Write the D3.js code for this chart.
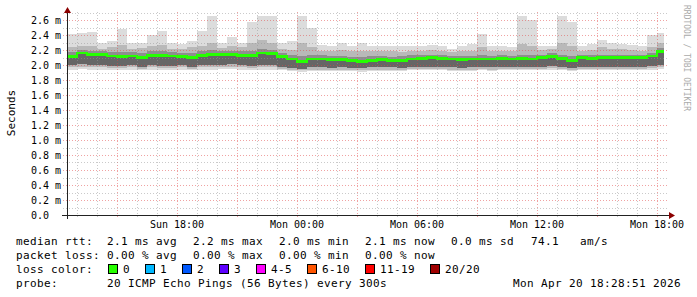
<!DOCTYPE html>
<html><head><meta charset="utf-8">
<script src="https://cdn.jsdelivr.net/npm/d3@7/dist/d3.min.js"></script>
<style>
html,body{margin:0;padding:0;background:#fff;}
svg{display:block;font-family:"DejaVu Sans Mono",monospace;}
text{white-space:pre;}
</style></head><body>
<svg id="c" width="697" height="297"></svg>
<script>
// ---------- data (values in ms; y axis labelled in seconds with "m" prefix) ----------
const rangeStart = "2026-04-19T12:30:00";
const rangeEnd = "2026-04-20T18:30:00";
const dataEnd = "2026-04-20T18:20:00";
const binMinutes = 30;
const medianMs = [2.11,2.16,2.14,2.14,2.12,2.11,2.12,2.10,2.13,2.13,
  2.12,2.11,2.10,2.13,2.14,2.14,2.14,2.13,2.13,2.16,
  2.15,2.11,2.08,2.05,2.08,2.08,2.07,2.07,2.06,2.05,
  2.06,2.07,2.06,2.06,2.08,2.09,2.10,2.09,2.08,2.07,
  2.08,2.08,2.08,2.09,2.08,2.09,2.08,2.10,2.11,2.09,
  2.06,2.10,2.09,2.10,2.10,2.10,2.10,2.10,2.12,2.18];
const maxMs = [2.42,2.43,2.44,2.30,2.32,2.48,2.30,2.30,2.40,2.45,
  2.30,2.28,2.32,2.45,2.65,2.30,2.37,2.30,2.58,2.66,
  2.66,2.30,2.32,2.65,2.49,2.27,2.26,2.30,2.26,2.29,
  2.26,2.26,2.25,2.25,2.26,2.25,2.27,2.25,2.22,2.26,
  2.28,2.42,2.26,2.25,2.24,2.65,2.60,2.26,2.26,2.65,
  2.58,2.25,2.28,2.33,2.30,2.28,2.27,2.26,2.40,2.43];
const hiMs = [2.24,2.26,2.25,2.22,2.24,2.27,2.22,2.23,2.25,2.27,
  2.22,2.21,2.24,2.26,2.30,2.23,2.25,2.24,2.30,2.33,
  2.30,2.22,2.20,2.30,2.24,2.19,2.18,2.20,2.18,2.19,
  2.18,2.19,2.18,2.17,2.19,2.18,2.20,2.18,2.17,2.18,
  2.19,2.24,2.19,2.18,2.18,2.28,2.26,2.20,2.21,2.30,
  2.25,2.18,2.20,2.24,2.22,2.21,2.20,2.19,2.24,2.30];
const q3Ms = [2.17,2.20,2.19,2.18,2.17,2.17,2.17,2.16,2.18,2.19,
  2.17,2.16,2.16,2.18,2.20,2.19,2.19,2.18,2.19,2.21,
  2.20,2.16,2.13,2.12,2.14,2.13,2.12,2.12,2.11,2.11,
  2.12,2.12,2.11,2.12,2.13,2.13,2.14,2.13,2.12,2.12,
  2.12,2.13,2.12,2.13,2.12,2.14,2.13,2.14,2.16,2.14,
  2.12,2.14,2.13,2.14,2.14,2.14,2.14,2.14,2.16,2.23];
const q1Ms = [2.00,2.01,2.00,2.00,1.99,1.99,2.00,1.98,2.00,1.99,
  1.99,2.00,1.98,2.00,2.00,2.00,2.01,2.00,1.99,2.00,
  2.00,1.98,1.96,1.95,1.97,1.97,1.96,1.97,1.96,1.96,
  1.97,1.97,1.97,1.96,1.97,1.97,1.98,1.97,1.97,1.96,
  1.97,1.97,1.97,1.98,1.97,1.98,1.97,1.98,1.99,1.98,
  1.96,1.98,1.98,1.98,1.98,1.98,1.98,1.98,1.99,2.00];
const loMs = [1.97,1.98,1.97,1.97,1.96,1.96,1.97,1.95,1.97,1.96,
  1.96,1.97,1.95,1.97,1.97,1.97,1.98,1.97,1.96,1.97,
  1.97,1.95,1.94,1.93,1.94,1.94,1.94,1.94,1.94,1.93,
  1.94,1.94,1.94,1.94,1.95,1.95,1.95,1.95,1.94,1.94,
  1.94,1.95,1.94,1.95,1.95,1.95,1.95,1.95,1.96,1.95,
  1.94,1.95,1.95,1.95,1.95,1.95,1.95,1.95,1.96,1.97];
const minMs = [1.94,1.95,1.94,1.94,1.93,1.94,1.94,1.93,1.94,1.94,
  1.94,1.94,1.93,1.94,1.94,1.95,1.95,1.94,1.94,1.94,
  1.94,1.93,1.92,1.91,1.92,1.92,1.92,1.92,1.92,1.91,
  1.92,1.92,1.92,1.92,1.93,1.93,1.93,1.93,1.92,1.92,
  1.92,1.93,1.92,1.93,1.93,1.93,1.93,1.93,1.94,1.93,
  1.92,1.93,1.93,1.93,1.93,1.93,1.93,1.93,1.94,1.95];

const yTickValues = [0,0.2,0.4,0.6,0.8,1.0,1.2,1.4,1.6,1.8,2.0,2.2,2.4,2.6];
const yTickLabels = ["0.0","0.2 m","0.4 m","0.6 m","0.8 m","1.0 m","1.2 m","1.4 m","1.6 m","1.8 m","2.0 m","2.2 m","2.4 m","2.6 m"];
const xTickTimes = ["2026-04-19T18:00:00","2026-04-20T00:00:00","2026-04-20T06:00:00","2026-04-20T12:00:00","2026-04-20T18:00:00"];
const xTickLabels = ["Sun 18:00","Mon 00:00","Mon 06:00","Mon 12:00","Mon 18:00"];

const yTitle = "Seconds";
const watermark = "RRDTOOL / TOBI OETIKER";
const medianRowHead = "median rtt:";
const medianRow = ["2.1 ms avg","2.2 ms max","2.0 ms min","2.1 ms now","0.0 ms sd","74.1   am/s"];
const lossRowHead = "packet loss:";
const lossRow = ["0.00 % avg","0.00 % max","0.00 % min","0.00 % now"];
const colorRowHead = "loss color:";
const lossLabels = ["0","1","2","3","4-5","6-10","11-19","20/20"];
const lossColors = ["#26ff00","#00b8ff","#0059ff","#5e00ff","#ff00ff","#ff5500","#ff0000","#a00000"];
const probeHead = "probe:";
const probeText = "20 ICMP Echo Pings (56 Bytes) every 300s";
const stampText = "Mon Apr 20 18:28:51 2026";

// ---------- drawing ----------
const svg = d3.select("#c");
const x = d3.scaleTime().domain([new Date(rangeStart), new Date(rangeEnd)]).range([67, 667]);
const y = d3.scaleLinear().domain([0, 2.7]).range([215, 12.5]);
const t0 = new Date(rangeStart), tEnd = new Date(dataEnd);
const bins = medianMs.map((m, i) => {
  const a = d3.timeMinute.offset(t0, i * binMinutes);
  let b = d3.timeMinute.offset(t0, (i + 1) * binMinutes);
  if (b > tEnd) b = tEnd;
  return {a, b, i};
});

const smoke = svg.append("g").attr("shape-rendering", "crispEdges");
const layers = [
  [minMs, maxMs, "#dcdcdc"],
  [loMs, hiMs, "#b9b9b9"],
  [medianMs, q3Ms, "#8e8e8e"],
  [q1Ms, medianMs, "#666666"]
];
layers.forEach(([lo, hi, col]) => {
  smoke.selectAll(null).data(bins).enter().append("rect")
    .attr("x", d => Math.round(x(d.a)))
    .attr("width", d => Math.round(x(d.b)) - Math.round(x(d.a)))
    .attr("y", d => Math.round(y(hi[d.i])))
    .attr("height", d => Math.round(y(lo[d.i])) - Math.round(y(hi[d.i])))
    .attr("fill", col);
});

// grid (drawn over smoke, like rrdtool)
const grid = svg.append("g").attr("shape-rendering", "crispEdges");
const hours = d3.timeHour.range(new Date(rangeStart), new Date(rangeEnd));
hours.forEach(h => {
  if (+h === +t0) return;
  const major = h.getHours() % 3 === 0;
  const xx = Math.round(x(h)) + 0.5;
  grid.append("line").attr("x1", xx).attr("x2", xx).attr("y1", 12).attr("y2", 218)
    .attr("stroke", major ? "rgba(225,70,70,0.5)" : "rgba(150,150,150,0.5)")
    .attr("stroke-dasharray", "1,2");
});
d3.range(1, 28).forEach(k => {
  const v = k / 10;
  const major = k % 2 === 0;
  const yy = Math.round(y(v)) + 0.5;
  grid.append("line").attr("x1", 63).attr("x2", 669).attr("y1", yy).attr("y2", yy)
    .attr("stroke", major ? "rgba(225,70,70,0.5)" : "rgba(150,150,150,0.5)")
    .attr("stroke-dasharray", "1,2");
});

// median line
const medPts = bins.map(d => [d.a, medianMs[d.i]]);
medPts.push([tEnd, medianMs[medianMs.length - 1]]);
svg.append("path")
  .attr("d", d3.line().x(d => Math.round(x(d[0]))).y(d => y(d[1])).curve(d3.curveStepAfter)(medPts))
  .attr("fill", "none").attr("stroke", "#26ff00").attr("stroke-width", 2.6)
  .attr("shape-rendering", "crispEdges");

// axes
const ax = svg.append("g").attr("shape-rendering", "crispEdges");
ax.append("line").attr("x1", 62).attr("x2", 670).attr("y1", 215.5).attr("y2", 215.5).attr("stroke", "#222");
ax.append("line").attr("x1", 67.5).attr("x2", 67.5).attr("y1", 12).attr("y2", 219).attr("stroke", "#222");
svg.append("path").attr("d", "M64,13 L67.5,7 L71,13 Z").attr("fill", "#8b0000");
svg.append("path").attr("d", "M669,212 L675,215.5 L669,219 Z").attr("fill", "#8b0000");

// y tick labels
svg.append("g").selectAll("text").data(yTickValues).enter().append("text")
  .attr("x", 31).attr("y", v => y(v) + 3.7)
  .attr("font-size", "10px").attr("fill", "#000")
  .text((v, i) => yTickLabels[i]);

// x tick labels
svg.append("g").selectAll("text").data(xTickTimes).enter().append("text")
  .attr("x", t => x(new Date(t))).attr("y", 228).attr("text-anchor", "middle")
  .attr("font-size", "10px").attr("fill", "#000")
  .text((t, i) => xTickLabels[i]);

// titles
svg.append("text").attr("transform", "translate(15,113) rotate(-90)")
  .attr("text-anchor", "middle").attr("font-size", "11px").attr("fill", "#000").text(yTitle);
svg.append("text").attr("transform", "translate(684,5) rotate(90)")
  .attr("font-size", "8px").attr("fill", "#aaaaaa").text(watermark);

// legend
const lg = svg.append("g").attr("font-size", "11px").attr("letter-spacing", "0.38px").attr("fill", "#000");
const segX = [107, 193, 279, 365, 451, 531];
lg.append("text").attr("x", 16).attr("y", 245).text(medianRowHead);
medianRow.forEach((s, i) => lg.append("text").attr("x", segX[i]).attr("y", 245).text(s));
lg.append("text").attr("x", 16).attr("y", 259).text(lossRowHead);
lossRow.forEach((s, i) => lg.append("text").attr("x", segX[i]).attr("y", 259).text(s));
lg.append("text").attr("x", 16).attr("y", 273).text(colorRowHead);
let bx = 108;
lossLabels.forEach((lab, i) => {
  lg.append("rect").attr("x", bx + 0.5).attr("y", 264.5).attr("width", 9).attr("height", 9)
    .attr("fill", lossColors[i]).attr("stroke", "#000").attr("stroke-width", 1);
  lg.append("text").attr("x", bx + 15).attr("y", 273).text(lab);
  bx += 30 + 7 * lab.length;
});
lg.append("text").attr("x", 16).attr("y", 287).text(probeHead);
lg.append("text").attr("x", 107).attr("y", 287).text(probeText);
lg.append("text").attr("x", 681).attr("y", 287).attr("text-anchor", "end").text(stampText);
</script>
</body></html>
